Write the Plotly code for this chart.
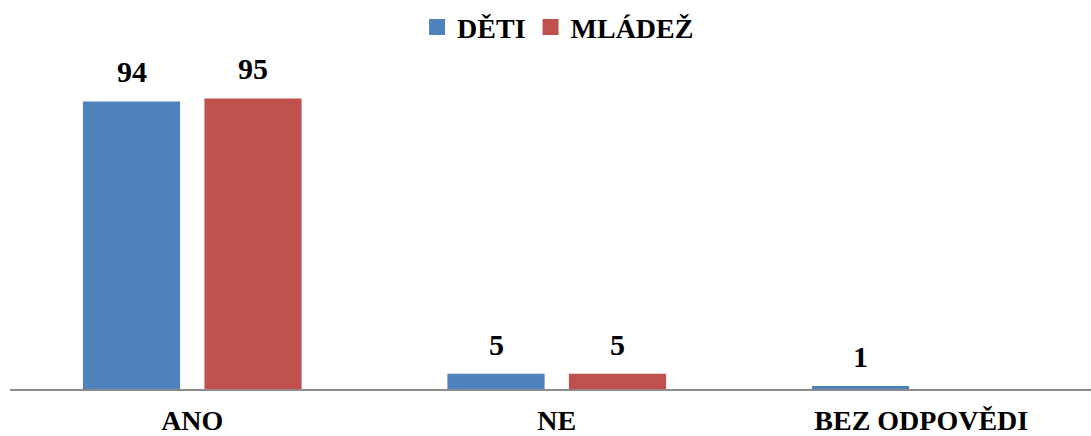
import plotly.graph_objects as go

categories = ["ANO", "NE", "BEZ ODPOVĚDI"]
series_names = ["DĚTI", "MLÁDEŽ"]
deti = [94, 5, 1]
mladez = [95, 5, None]
colors = ["#4F81BD", "#C0504D"]

FONT = "Liberation Serif"

fig = go.Figure()
for name, vals, col in zip(series_names, [deti, mladez], colors):
    fig.add_trace(go.Bar(
        x=list(range(len(categories))), y=vals, name=name,
        marker=dict(color=col, line=dict(width=0)), showlegend=False,
    ))
# legend entries with square swatches
for name, col in zip(series_names, colors):
    fig.add_trace(go.Scatter(
        x=[None], y=[None], mode="markers", name=name,
        marker=dict(symbol="square", size=16, color=col),
    ))

# value labels above each bar
offsets = [-1 / 6, 1 / 6]
annotations = []
for vals, off in zip([deti, mladez], offsets):
    for i, v in enumerate(vals):
        if v is None:
            continue
        annotations.append(dict(
            x=i + off, y=v, xref="x", yref="y", text=str(v),
            showarrow=False, yanchor="bottom", yshift=11,
            font=dict(family=FONT, size=30, color="#000000", weight="bold"),
        ))

fig.update_layout(
    width=1091, height=436,
    margin=dict(l=10, r=0, t=55, b=47, autoexpand=False),
    paper_bgcolor="white", plot_bgcolor="white",
    barmode="group", bargap=1 / 3, bargroupgap=0.2,
    showlegend=True,
    legend=dict(orientation="h", x=0.507, xanchor="center", y=0.995, yanchor="top",
                yref="container",
                font=dict(family=FONT, size=28, color="#000000", weight="bold"),
                itemwidth=30, traceorder="normal", itemsizing="trace"),
    annotations=annotations,
    xaxis=dict(
        range=[-0.5, -0.5 + 1081 / 364.5],
        tickmode="array", tickvals=list(range(len(categories))),
        ticktext=categories, ticklabelstandoff=6,
        tickfont=dict(family=FONT, size=28, color="#000000", weight="bold"),
        showline=True, linecolor="#8C8C8C", linewidth=1.5,
        showgrid=False, zeroline=False, ticks="",
    ),
    yaxis=dict(range=[0, 109.2], visible=False, showgrid=False, zeroline=False),
)

fig.write_html("out.html")
